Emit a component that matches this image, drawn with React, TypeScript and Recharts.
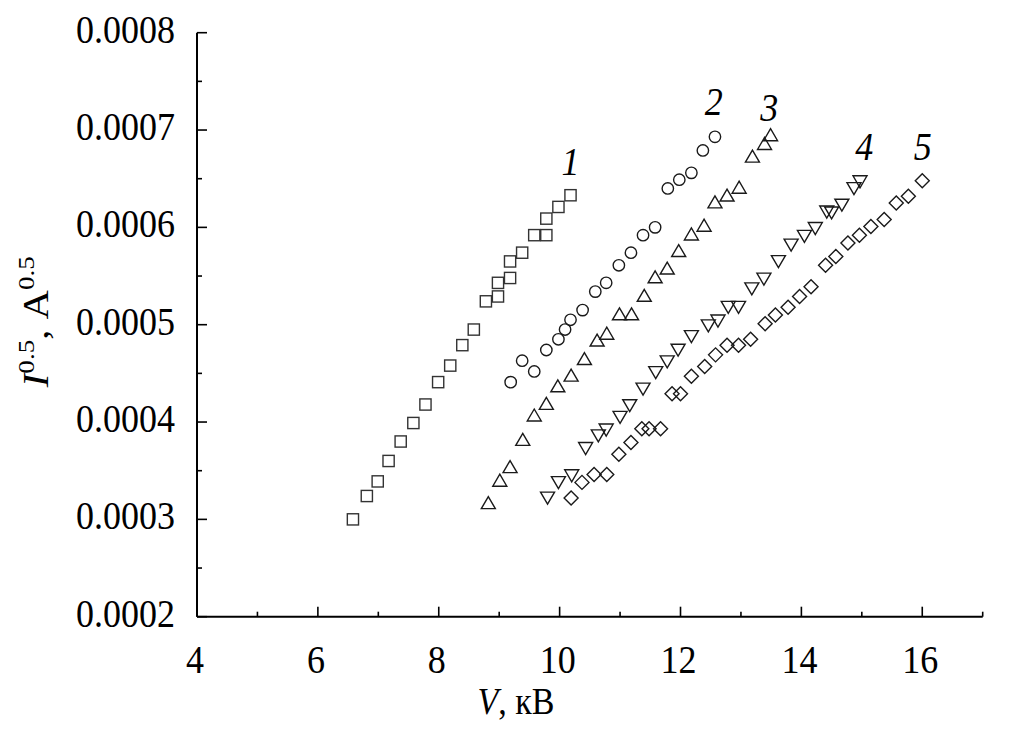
import React from "react";
import { ScatterChart, Scatter, XAxis, YAxis } from "recharts";

// Curve 1 (squares)
const s1X = [6.58, 6.81, 6.99, 7.17, 7.37, 7.58, 7.78, 7.99, 8.19, 8.39, 8.58, 8.78, 8.98, 8.98, 9.18, 9.18, 9.38, 9.58, 9.78, 9.78, 9.98, 10.18];
const s1Y = [0.0003, 0.000324, 0.000339, 0.00036, 0.00038, 0.000399, 0.000418, 0.000441, 0.000458, 0.000479, 0.000495, 0.000524, 0.000529, 0.000543, 0.000548, 0.000565, 0.000574, 0.000592, 0.000592, 0.000609, 0.000621, 0.000633];
// Curve 2 (circles)
const s2X = [9.19, 9.38, 9.58, 9.78, 9.98, 10.09, 10.18, 10.38, 10.59, 10.77, 10.98, 11.18, 11.38, 11.58, 11.79, 11.98, 12.18, 12.37, 12.57];
const s2Y = [0.000441, 0.000463, 0.000452, 0.000474, 0.000485, 0.000495, 0.000505, 0.000515, 0.000534, 0.000543, 0.000561, 0.000574, 0.000592, 0.0006, 0.00064, 0.000649, 0.000656, 0.000679, 0.000693];
// Curve 3 (triangles up)
const s3X = [8.82, 9.01, 9.18, 9.39, 9.58, 9.78, 9.97, 10.19, 10.41, 10.62, 10.78, 10.99, 11.19, 11.4, 11.58, 11.78, 11.97, 12.18, 12.39, 12.57, 12.77, 12.97, 13.19, 13.39, 13.49];
const s3Y = [0.000317, 0.00034, 0.000354, 0.000382, 0.000407, 0.000419, 0.000437, 0.000448, 0.000465, 0.000484, 0.000491, 0.000511, 0.000511, 0.00053, 0.000549, 0.000558, 0.000576, 0.000593, 0.000602, 0.000626, 0.000633, 0.000641, 0.000673, 0.000686, 0.000695];
// Curve 4 (triangles down)
const s4X = [9.8, 9.98, 10.2, 10.43, 10.64, 10.77, 11.0, 11.16, 11.38, 11.59, 11.78, 11.96, 12.18, 12.46, 12.62, 12.79, 12.96, 13.18, 13.38, 13.62, 13.83, 14.05, 14.23, 14.42, 14.5, 14.67, 14.87, 14.97];
const s4Y = [0.000322, 0.000338, 0.000345, 0.000373, 0.000386, 0.000392, 0.000405, 0.000417, 0.000434, 0.000451, 0.000462, 0.000474, 0.000488, 0.000499, 0.000504, 0.000518, 0.000518, 0.000537, 0.000547, 0.000565, 0.000582, 0.000591, 0.000599, 0.000616, 0.000615, 0.000623, 0.00064, 0.000647];
// Curve 5 (diamonds)
const s5X = [10.19, 10.37, 10.57, 10.78, 10.98, 11.18, 11.36, 11.48, 11.67, 11.86, 12.0, 12.18, 12.4, 12.58, 12.77, 12.96, 13.16, 13.4, 13.57, 13.78, 13.97, 14.16, 14.4, 14.57, 14.77, 14.96, 15.15, 15.37, 15.57, 15.77, 16.0];
const s5Y = [0.000322, 0.000338, 0.000346, 0.000346, 0.000367, 0.000379, 0.000393, 0.000393, 0.000393, 0.000429, 0.000429, 0.000447, 0.000457, 0.000469, 0.000479, 0.000479, 0.000485, 0.000501, 0.00051, 0.000518, 0.000529, 0.000539, 0.000561, 0.00057, 0.000584, 0.000592, 0.000601, 0.000608, 0.000625, 0.000632, 0.000648];

// Curve number labels
const curveNames = ["1", "2", "3", "4", "5"];
const curveLabelX = [10.18, 12.55, 13.47, 15.04, 16.01];
const curveLabelY = [0.000667, 0.000729, 0.000723, 0.000683, 0.000683];

// Axis ticks
const xTicks = [4, 5, 6, 7, 8, 9, 10, 11, 12, 13, 14, 15, 16, 17];
const yTicks = [0.0002, 0.00025, 0.0003, 0.00035, 0.0004, 0.00045, 0.0005, 0.00055, 0.0006, 0.00065, 0.0007, 0.00075, 0.0008];

const toPts = (xs: number[], ys: number[]) => xs.map((x, i) => ({ x, y: ys[i] }));
const d1 = toPts(s1X, s1Y);
const d2 = toPts(s2X, s2Y);
const d3 = toPts(s3X, s3Y);
const d4 = toPts(s4X, s4Y);
const d5 = toPts(s5X, s5Y);
const labelPts = curveNames.map((n, i) => ({ x: curveLabelX[i], y: curveLabelY[i], name: n }));

const FONT = "'Liberation Serif', 'Times New Roman', serif";
const STRETCH = 1.13;
const MK = "#1a1a1a";
const SW = 1.4;

const Square = (p: any) => (
  <rect x={p.cx - 5.6} y={p.cy - 5.6} width={11.2} height={11.2} fill="none" stroke="#333" strokeWidth={SW} />
);
const Circle = (p: any) => <circle cx={p.cx} cy={p.cy} r={5.7} fill="none" stroke={MK} strokeWidth={SW} />;
const TriUp = (p: any) => (
  <polygon
    points={`${p.cx - 7},${p.cy + 5.8} ${p.cx + 7},${p.cy + 5.8} ${p.cx},${p.cy - 6.2}`}
    fill="none"
    stroke={MK}
    strokeWidth={SW}
  />
);
const TriDown = (p: any) => (
  <polygon
    points={`${p.cx - 7},${p.cy - 5.8} ${p.cx + 7},${p.cy - 5.8} ${p.cx},${p.cy + 6.2}`}
    fill="none"
    stroke={MK}
    strokeWidth={SW}
  />
);
const Diamond = (p: any) => (
  <polygon
    points={`${p.cx},${p.cy - 7} ${p.cx + 7},${p.cy} ${p.cx},${p.cy + 7} ${p.cx - 7},${p.cy}`}
    fill="none"
    stroke={MK}
    strokeWidth={SW}
  />
);
const CurveLabel = (p: any) => (
  <text
    transform={`translate(${p.cx},${p.cy + 13}) scale(1,${STRETCH})`}
    textAnchor="middle"
    fontFamily={FONT}
    fontStyle="italic"
    fontSize={36}
    fill="#000"
  >
    {p.payload.name}
  </text>
);

const XTick = (props: any) => {
  const { x, y, payload } = props;
  const v = payload.value;
  const major = v % 2 === 0;
  return (
    <g>
      <line x1={x} x2={x} y1={y} y2={y - (major ? 10 : 5)} stroke="#000" strokeWidth={1.6} />
      {major && v !== 17 && (
        <text
          transform={`translate(${x - 2},${y + 56}) scale(1,${STRETCH})`}
          textAnchor="middle"
          fontFamily={FONT}
          fontSize={36}
          fill="#000"
        >
          {v}
        </text>
      )}
    </g>
  );
};

const YTick = (props: any) => {
  const { x, y, payload } = props;
  const v = payload.value;
  const k = v * 1e4;
  const major = Math.abs(k - Math.round(k)) < 1e-6;
  return (
    <g>
      <line x1={x} x2={x + (major ? 10 : 5)} y1={y} y2={y} stroke="#000" strokeWidth={1.6} />
      {major && (
        <text
          transform={`translate(${x - 22},${y + 10}) scale(1,${STRETCH})`}
          textAnchor="end"
          fontFamily={FONT}
          fontSize={36}
          fill="#000"
        >
          {v.toFixed(4)}
        </text>
      )}
    </g>
  );
};

const XTitle = (props: any) => {
  const vb = props.viewBox;
  return (
    <text
      transform={`translate(${vb.x + 319},${vb.y + 97}) scale(1,${STRETCH})`}
      textAnchor="middle"
      fontFamily={FONT}
      fontSize={34}
      fill="#000"
    >
      <tspan fontStyle="italic">V</tspan>
      <tspan>, кВ</tspan>
    </text>
  );
};

const YTitle = (props: any) => {
  const vb = props.viewBox;
  const cy = vb.y + vb.height / 2 - 3;
  return (
    <text
      transform={`translate(40,${cy}) rotate(-90) scale(${STRETCH},1)`}
      textAnchor="middle"
      fontFamily={FONT}
      fontSize={36}
      fill="#000"
    >
      <tspan fontStyle="italic">I</tspan>
      <tspan fontSize={24} dy={-14}>0.5</tspan>
      <tspan dy={14}>, А</tspan>
      <tspan fontSize={24} dy={-14}>0.5</tspan>
    </text>
  );
};

export default function App() {
  return (
    <div style={{ width: 1004, height: 724, background: "#fff" }}>
      <ScatterChart width={1004} height={724} margin={{ top: 24.7, right: 29.3, left: 0, bottom: 0 }}>
        <XAxis
          type="number"
          dataKey="x"
          domain={[4, 17]}
          ticks={xTicks}
          interval={0}
          height={115.3}
          tickSize={0}
          tickMargin={0}
          tickLine={false}
          axisLine={{ stroke: "#000", strokeWidth: 2 }}
          tick={XTick}
          label={XTitle}
          allowDataOverflow
        />
        <YAxis
          type="number"
          dataKey="y"
          domain={[0.0002, 0.0008]}
          ticks={yTicks}
          interval={0}
          width={189}
          tickSize={0}
          tickMargin={0}
          tickLine={false}
          axisLine={{ stroke: "#000", strokeWidth: 2 }}
          tick={YTick}
          label={YTitle}
          allowDataOverflow
        />
        <Scatter data={d1} shape={Square} isAnimationActive={false} />
        <Scatter data={d2} shape={Circle} isAnimationActive={false} />
        <Scatter data={d3} shape={TriUp} isAnimationActive={false} />
        <Scatter data={d4} shape={TriDown} isAnimationActive={false} />
        <Scatter data={d5} shape={Diamond} isAnimationActive={false} />
        <Scatter data={labelPts} shape={CurveLabel} isAnimationActive={false} />
      </ScatterChart>
    </div>
  );
}
